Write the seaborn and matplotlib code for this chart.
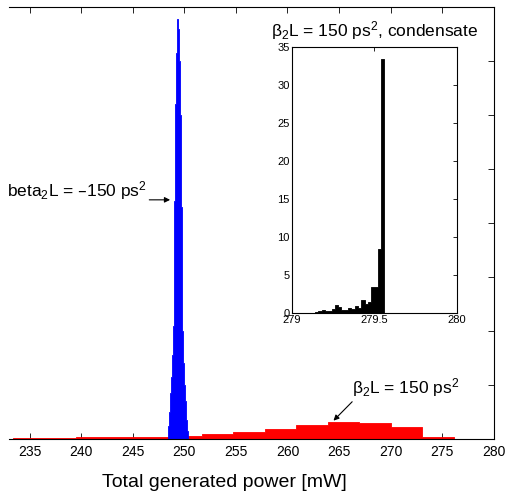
import numpy as np
import matplotlib
matplotlib.use('Agg')
import matplotlib.pyplot as plt
import seaborn as sns

# red: beta2L = +150 ps^2 (wide distribution), bin edges and heights
red_edges = [233.4, 236.45, 239.5, 242.55, 245.6, 248.65, 251.7, 254.75,
             257.8, 260.85, 263.9, 266.95, 270.0, 273.05, 276.1]
red_heights = [0.013, 0.019, 0.028, 0.037, 0.046, 0.056, 0.087, 0.13,
               0.185, 0.265, 0.315, 0.29, 0.222, 0.043]

# blue: beta2L = -150 ps^2 (narrow peak)
blue_edges = [248.4, 248.5, 248.6, 248.7, 248.8, 248.9, 249.0, 249.1, 249.2, 249.3,
              249.4, 249.5, 249.6, 249.7, 249.8, 249.9, 250.0, 250.1, 250.2, 250.3, 250.4]
blue_heights = [0.25, 0.5, 0.85, 1.15, 1.55, 2.1, 4.4, 6.2, 7.15, 7.78,
                7.6, 7.0, 6.0, 4.3, 2.0, 1.4, 1.0, 0.7, 0.35, 0.15]

# inset: condensate, beta2L = +150 ps^2
cond_edges = [279.14, 279.16, 279.18, 279.20, 279.22, 279.24, 279.26, 279.28,
              279.30, 279.32, 279.34, 279.36, 279.38, 279.40, 279.42, 279.44,
              279.46, 279.48, 279.50, 279.52, 279.54, 279.56]
cond_heights = [0.12, 0.25, 0.35, 0.3, 0.25, 0.6, 1.1, 0.85, 0.4, 0.4, 0.65,
                0.5, 0.9, 0.7, 1.7, 1.2, 1.45, 3.5, 3.5, 8.5, 33.5]

main_xticks = [235, 240, 245, 250, 255, 260, 265, 270, 275, 280]
inset_xticks = [279, 279.5, 280]
inset_xticklabels = ['279', '279.5', '280']
inset_yticks = [0, 5, 10, 15, 20, 25, 30, 35]


def centers(edges):
    e = np.asarray(edges)
    return (e[:-1] + e[1:]) / 2


sns.set_style('white')
plt.rcParams['font.family'] = ['Liberation Sans', 'DejaVu Sans']
plt.rcParams['mathtext.default'] = 'regular'
plt.rcParams['text.color'] = 'black'
plt.rcParams['axes.labelcolor'] = 'black'
plt.rcParams['xtick.color'] = 'black'
plt.rcParams['ytick.color'] = 'black'

fig = plt.figure(figsize=(5.05, 4.97), dpi=100)
ax = fig.add_axes([0.0178, 0.1167, 0.960, 0.869])

sns.histplot(x=centers(red_edges), weights=red_heights, bins=red_edges,
             element='step', fill=True, color='red', alpha=1, linewidth=0.6,
             edgecolor='red', ax=ax)
sns.histplot(x=centers(blue_edges), weights=blue_heights, bins=blue_edges,
             element='step', fill=True, color='blue', alpha=1, linewidth=0.6,
             edgecolor='blue', ax=ax)

ax.set_xlim(233, 280)
ax.set_ylim(0, 8)
ax.set_xticks(main_xticks)
ax.set_yticks(range(0, 9))
ax.set_ylabel('')
ax.spines['left'].set_visible(False)
for s in ['top', 'right', 'bottom']:
    ax.spines[s].set_linewidth(0.8)
    ax.spines[s].set_color('black')
ax.tick_params(axis='x', direction='in', length=4, width=0.6, top=True,
               bottom=True, labelsize=10, pad=4)
ax.tick_params(axis='y', direction='in', length=4, width=0.6, left=False,
               right=True, labelleft=False, labelright=False)
ax.set_xlabel('Total generated power [mW]', fontsize=14)
ax.xaxis.set_label_coords(0.445, -0.081)

# annotations
ax.text(232.85, 4.61, r'beta$_2$L = –150 ps$^2$', fontsize=12.5,
        ha='left', va='center')
ax.annotate('', xy=(248.62, 4.43), xytext=(246.6, 4.43),
            arrowprops=dict(arrowstyle='-|>', color='black', lw=0.8,
                            mutation_scale=8, shrinkA=0, shrinkB=0))
ax.text(266.3, 0.96, r'$\beta_2$L = 150 ps$^2$', fontsize=12.5,
        ha='left', va='center')
ax.annotate('', xy=(264.46, 0.34), xytext=(266.27, 0.69),
            arrowprops=dict(arrowstyle='-|>', color='black', lw=0.8,
                            mutation_scale=8, shrinkA=0, shrinkB=0))

# inset
ins = fig.add_axes([0.578, 0.370, 0.327, 0.535])
sns.histplot(x=centers(cond_edges), weights=cond_heights, bins=cond_edges,
             element='step', fill=True, color='black', alpha=1, linewidth=0.6,
             edgecolor='black', ax=ins)
ins.set_xlim(279, 280)
ins.set_ylim(0, 35)
ins.set_xticks(inset_xticks)
ins.set_xticklabels(inset_xticklabels)
ins.set_yticks(inset_yticks)
ins.set_ylabel('')
for s in ins.spines.values():
    s.set_linewidth(0.8)
    s.set_color('black')
ins.tick_params(axis='both', direction='in', length=3, width=0.6,
                labelsize=8, pad=1.5, top=True, right=True)
ins.set_title(r'$\beta_2$L = 150 ps$^2$, condensate', fontsize=12.5, pad=8)

fig.savefig('out.png', dpi=100)
